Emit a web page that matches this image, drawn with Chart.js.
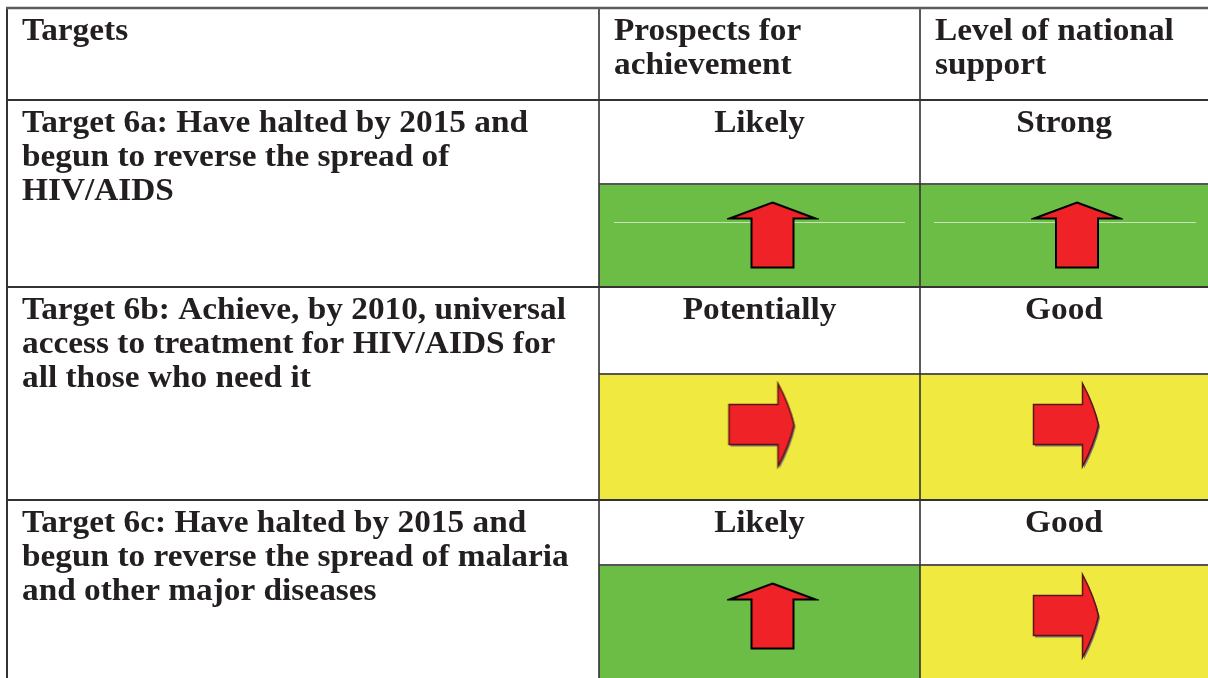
<!DOCTYPE html>
<html>
<head>
<meta charset="utf-8">
<script src="https://cdn.jsdelivr.net/npm/chart.js@4"></script>
<style>
  html, body { margin: 0; padding: 0; background: #fff; }
  canvas { display: block; }
</style>
</head>
<body>
<canvas id="targetsTable" width="1208" height="678"></canvas>
<script>
// table content
const headers = ['Targets', 'Prospects for\nachievement', 'Level of national\nsupport'];
const targets = [
    'Target 6a: Have halted by 2015 and\nbegun to reverse the spread of\nHIV/AIDS',
    'Target 6b: Achieve, by 2010, universal\naccess to treatment for HIV/AIDS for\nall those who need it',
    'Target 6c: Have halted by 2015 and\nbegun to reverse the spread of malaria\nand other major diseases'
];
const prospects = ['Likely', 'Potentially', 'Likely'];
const support = ['Strong', 'Good', 'Good'];
const prospectTrend = ['up', 'right', 'up'];
const supportTrend = ['up', 'right', 'right'];

// layout (pixel units of the hidden scales)
const colEdges = [7, 599, 920, 1208];
const rowEdges = [8, 100, 287, 500, 720];
const statusTop = [184, 374, 565];
const trendColor = { up: '#6cbd45', right: '#f0e940' };
const arrowShift = { up: 13, right: 2 };
const FONT = 'bold 31px "Liberation Serif", "Times New Roman", serif';
const TEXT_STRETCH = 1.075;
const TEXT_COLOR = '#231f20';
const LINE_H = 34;

function makeUpArrow() {
    const c = document.createElement('canvas');
    c.width = 92; c.height = 70;
    const g = c.getContext('2d');
    const cx = 46, cy = 35;
    g.beginPath();
    g.moveTo(cx, cy - 32.5);
    g.lineTo(cx + 43, cy - 16.5);
    g.lineTo(cx + 21, cy - 16.5);
    g.lineTo(cx + 21, cy + 32.5);
    g.lineTo(cx - 21, cy + 32.5);
    g.lineTo(cx - 21, cy - 16.5);
    g.lineTo(cx - 43, cy - 16.5);
    g.closePath();
    g.fillStyle = '#ee2227';
    g.fill();
    g.lineWidth = 2;
    g.strokeStyle = '#000';
    g.stroke();
    return c;
}

function makeRightArrow() {
    const c = document.createElement('canvas');
    c.width = 74; c.height = 92;
    const g = c.getContext('2d');
    const cx = 37, cy = 46;
    function shape(dx, dy) {
        g.beginPath();
        g.moveTo(cx - 32.5 + dx, cy - 20.5 + dy);
        g.lineTo(cx + 16.5 + dx, cy - 20.5 + dy);
        g.lineTo(cx + 16.5 + dx, cy - 41.5 + dy);
        g.quadraticCurveTo(cx + 28 + dx, cy - 20 + dy, cx + 32.5 + dx, cy + dy);
        g.quadraticCurveTo(cx + 28 + dx, cy + 20 + dy, cx + 16.5 + dx, cy + 41.5 + dy);
        g.lineTo(cx + 16.5 + dx, cy + 19.5 + dy);
        g.lineTo(cx - 32.5 + dx, cy + 19.5 + dy);
        g.closePath();
    }
    shape(1.5, 2);
    g.fillStyle = '#777';
    g.fill();
    shape(0, 0);
    g.fillStyle = '#ee2227';
    g.fill();
    g.lineWidth = 1.5;
    g.strokeStyle = '#5a1414';
    g.stroke();
    return c;
}

const arrowImg = { up: makeUpArrow(), right: makeRightArrow() };

// one arrow per status cell, placed at the centre of the cell
const arrowPoints = [];
for (let r = 0; r < targets.length; r++) {
    [prospectTrend[r], supportTrend[r]].forEach((trend, k) => {
        const c = k + 1;
        arrowPoints.push({
            x: (colEdges[c] + colEdges[c + 1]) / 2 + arrowShift[trend],
            y: statusTop[r] + 51,
            trend: trend
        });
    });
}

const tablePlugin = {
    id: 'tablePlugin',
    beforeDatasetsDraw(chart) {
        const ctx = chart.ctx;
        const xs = chart.scales.x, ys = chart.scales.y;
        const px = v => xs.getPixelForValue(v);
        const py = v => ys.getPixelForValue(v);
        const bottom = py(678) + 60;

        ctx.save();
        // coloured status cells
        for (let r = 0; r < targets.length; r++) {
            [prospectTrend[r], supportTrend[r]].forEach((trend, k) => {
                const c = k + 1;
                ctx.fillStyle = trendColor[trend];
                ctx.fillRect(px(colEdges[c]), py(statusTop[r]), px(colEdges[c + 1]) - px(colEdges[c]),
                    py(rowEdges[r + 2]) - py(statusTop[r]));
            });
        }
        // faint scan line across the first row of status cells
        ctx.strokeStyle = 'rgba(230,240,220,0.75)';
        ctx.lineWidth = 1;
        ctx.beginPath();
        ctx.moveTo(px(614), py(222.5)); ctx.lineTo(px(905), py(222.5));
        ctx.moveTo(px(934), py(222.5)); ctx.lineTo(px(1196), py(222.5));
        ctx.stroke();

        // grid lines
        ctx.strokeStyle = '#333';
        ctx.lineWidth = 2;
        ctx.beginPath();
        rowEdges.slice(1, 4).forEach(y => {
            ctx.moveTo(px(colEdges[0]), py(y));
            ctx.lineTo(px(1208), py(y));
        });
        ctx.stroke();
        ctx.strokeStyle = '#555';
        ctx.beginPath();
        statusTop.forEach(y => {
            ctx.moveTo(px(colEdges[1]), py(y));
            ctx.lineTo(px(1208), py(y));
        });
        ctx.stroke();
        ctx.strokeStyle = '#333';
        ctx.lineWidth = 1.6;
        ctx.beginPath();
        [colEdges[1], colEdges[2]].forEach(x => {
            ctx.moveTo(px(x), py(rowEdges[0]));
            ctx.lineTo(px(x), bottom);
        });
        ctx.stroke();
        ctx.lineWidth = 2;
        ctx.beginPath();
        ctx.moveTo(px(colEdges[0]), py(rowEdges[0]));
        ctx.lineTo(px(colEdges[0]), bottom);
        ctx.stroke();
        ctx.strokeStyle = '#5c5c5c';
        ctx.lineWidth = 2.5;
        ctx.beginPath();
        ctx.moveTo(px(colEdges[0] - 1), py(rowEdges[0]));
        ctx.lineTo(px(1208), py(rowEdges[0]));
        ctx.stroke();

        // text (the source type is slightly wide, hence the stretch)
        ctx.font = FONT;
        ctx.fillStyle = TEXT_COLOR;
        ctx.textBaseline = 'alphabetic';
        function block(text, x, top, align) {
            ctx.textAlign = align;
            text.split('\n').forEach((line, i) => {
                ctx.save();
                ctx.translate(x, py(top + 32 + i * LINE_H));
                ctx.scale(TEXT_STRETCH, 1);
                ctx.fillText(line, 0, 0);
                ctx.restore();
            });
        }
        headers.forEach((h, c) => block(h, px(colEdges[c] + 15), rowEdges[0], 'left'));
        for (let r = 0; r < targets.length; r++) {
            const top = rowEdges[r + 1];
            block(targets[r], px(colEdges[0] + 15), top, 'left');
            block(prospects[r], px((colEdges[1] + colEdges[2]) / 2), top, 'center');
            block(support[r], px((colEdges[2] + colEdges[3]) / 2), top, 'center');
        }
        ctx.restore();
    }
};

new Chart(document.getElementById('targetsTable'), {
    type: 'scatter',
    data: {
        datasets: [{
            data: arrowPoints,
            pointStyle: ctx => arrowImg[ctx.raw ? ctx.raw.trend : 'up'],
            pointRadius: 10,
            clip: false
        }]
    },
    options: {
        responsive: false,
        devicePixelRatio: 1,
        animation: false,
        events: [],
        layout: { padding: 0, autoPadding: false },
        plugins: { legend: { display: false }, tooltip: { enabled: false } },
        scales: {
            x: { type: 'linear', min: 0, max: 1208, display: false },
            y: { type: 'linear', min: 0, max: 678, reverse: true, display: false }
        }
    },
    plugins: [tablePlugin]
});
</script>
</body>
</html>
